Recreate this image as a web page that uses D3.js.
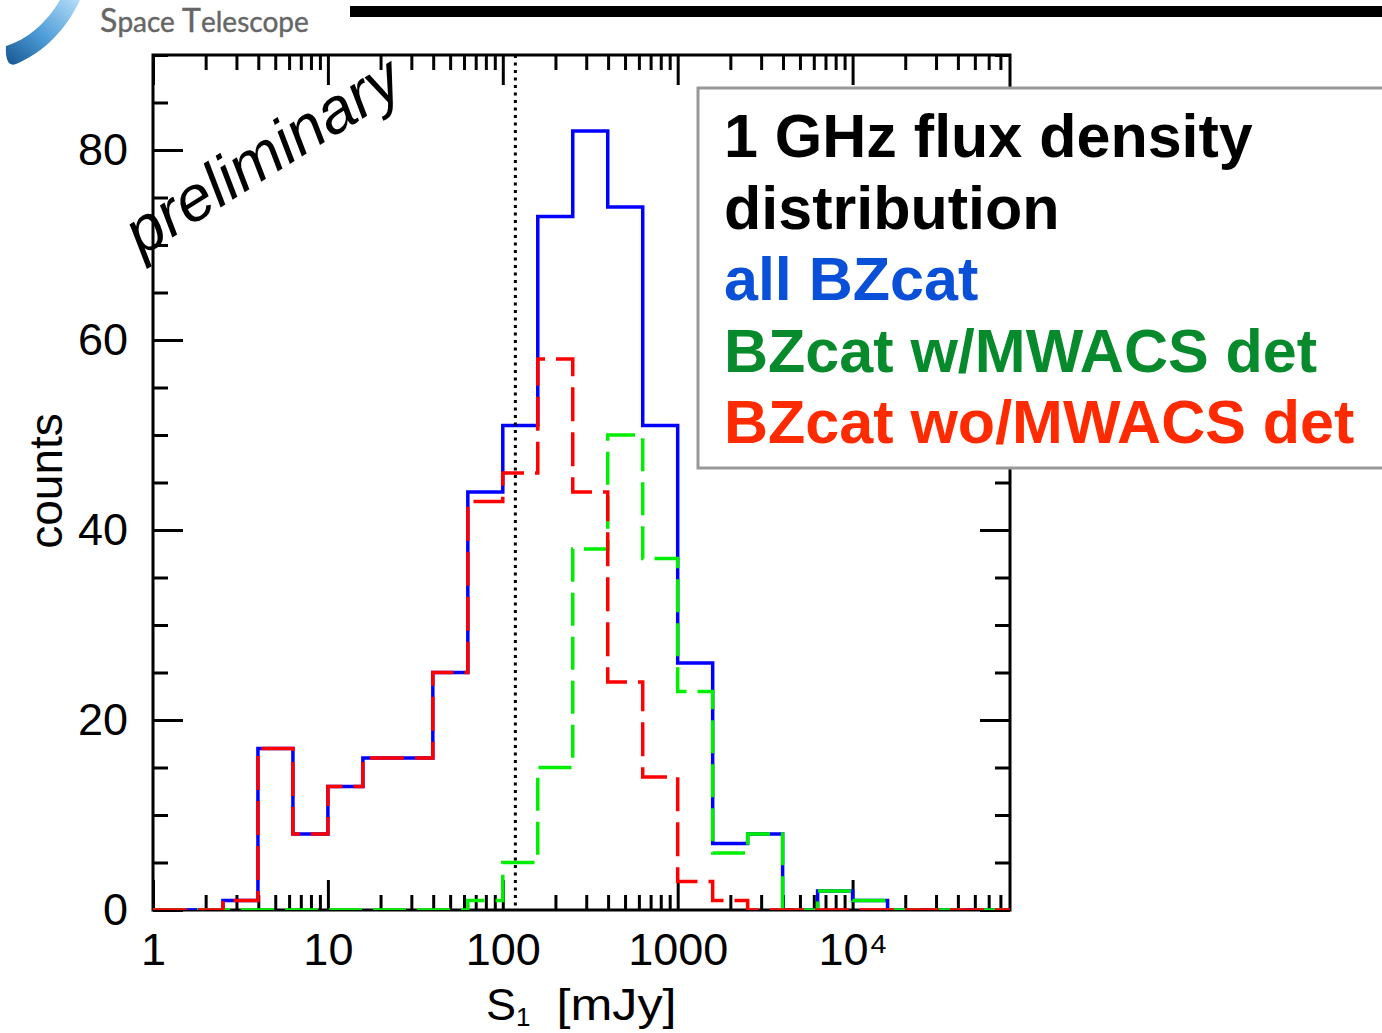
<!DOCTYPE html>
<html>
<head>
<meta charset="utf-8">
<script src="https://cdn.jsdelivr.net/npm/d3@7"></script>
<style>
  body { margin: 0; background: #fff; }
  svg { display: block; }
</style>
</head>
<body>
<svg id="chart"></svg>
<script>
// bin edges in mJy (0.2 dex wide bins)
const binEdges = [1, 1.585, 2.512, 3.981, 6.310, 10, 15.85, 25.12, 39.81, 63.10,
  100, 158.5, 251.2, 398.1, 631.0, 1000, 1585, 2512, 3981, 6310,
  10000, 15850, 25120, 39810, 63100, 100000];
const allBZcat = [0, 0, 1, 17, 8, 13, 16, 16, 25, 44, 51, 73, 82, 74, 51, 26, 7, 8, 0, 2, 1, 0, 0, 0, 0];
const withMWACS = [0, 0, 0, 0, 0, 0, 0, 0, 0, 1, 5, 15, 38, 50, 37, 23, 6, 8, 0, 2, 1, 0, 0, 0, 0];
const withoutMWACS = [0, 0, 1, 17, 8, 13, 16, 16, 25, 43, 46, 58, 44, 24, 14, 3, 1, 0, 0, 0, 0, 0, 0, 0, 0];
const xMajor = [1, 10, 100, 1000, 10000];
const xLabels = ["1", "10", "100", "1000", "10\u2074"];
const yMajor = [0, 20, 40, 60, 80];
const fluxLimit = 118;
const legendLines = [
  { text: "1 GHz flux density", color: "#000" },
  { text: "distribution", color: "#000" },
  { text: "all BZcat", color: "#0a4fd8" },
  { text: "BZcat w/MWACS det", color: "#078a2c" },
  { text: "BZcat wo/MWACS det", color: "#ff2a00" }
];

const width = 1382;
const height = 1033;
const plot = { left: 153, right: 1010, top: 55, bottom: 910 };
const axisFont = "'Liberation Sans', Arial, sans-serif";

const svg = d3.select("#chart").attr("width", width).attr("height", height);

const x = d3.scaleLog().domain([1, 79433]).range([plot.left, plot.right]);
const y = d3.scaleLinear().domain([0, 90]).range([plot.bottom, plot.top]);

const xMinor = x.ticks().filter(v => Math.abs(Math.log10(v) - Math.round(Math.log10(v))) > 1e-6);
const yMinor = y.ticks(18).filter(v => v % 20 !== 0);

// header: logo + rule
const defs = svg.append("defs");
const grad = defs.append("linearGradient").attr("id", "swoosh")
  .attr("x1", "100%").attr("y1", "0%").attr("x2", "0%").attr("y2", "100%");
grad.append("stop").attr("offset", "0%").attr("stop-color", "#b5def8");
grad.append("stop").attr("offset", "55%").attr("stop-color", "#4a9ad6");
grad.append("stop").attr("offset", "100%").attr("stop-color", "#16558f");
svg.append("path")
  .attr("d", "M6,46 C26,40 46,24 60,0 L80,0 C66,30 44,52 16,64 C9,67 5,60 6,46 Z")
  .attr("fill", "url(#swoosh)");
const logo = svg.append("text")
  .attr("x", 100).attr("y", 32)
  .attr("font-family", "Lato, 'Open Sans', sans-serif")
  .attr("font-size", 28)
  .attr("fill", "#666")
  .attr("stroke", "#666").attr("stroke-width", 0.4);
logo.append("tspan").attr("font-size", 32).text("S");
logo.append("tspan").text("pace ");
logo.append("tspan").attr("font-size", 32).text("T");
logo.append("tspan").text("elescope");
svg.append("rect").attr("x", 350).attr("y", 6).attr("width", width - 350).attr("height", 11).attr("fill", "#000");

// axes
function styleAxis(g) {
  g.select(".domain").remove();
  g.selectAll(".tick line").attr("stroke", "#000").attr("stroke-width", 3);
  g.selectAll("text").attr("font-family", axisFont).attr("font-size", 45).attr("fill", "#000");
}

svg.append("g").attr("transform", `translate(0,${plot.bottom})`)
  .call(d3.axisBottom(x).tickValues(xMajor).tickSizeInner(-30).tickSizeOuter(0)
    .tickPadding(23).tickFormat((d, i) => xLabels[i]))
  .call(styleAxis);
svg.append("g").attr("transform", `translate(0,${plot.bottom})`)
  .call(d3.axisBottom(x).tickValues(xMinor).tickSizeInner(-15).tickSizeOuter(0).tickFormat(""))
  .call(styleAxis);
svg.append("g").attr("transform", `translate(0,${plot.top})`)
  .call(d3.axisTop(x).tickValues(xMajor).tickSizeInner(-30).tickSizeOuter(0).tickFormat(""))
  .call(styleAxis);
svg.append("g").attr("transform", `translate(0,${plot.top})`)
  .call(d3.axisTop(x).tickValues(xMinor).tickSizeInner(-15).tickSizeOuter(0).tickFormat(""))
  .call(styleAxis);
svg.append("g").attr("transform", `translate(${plot.left},0)`)
  .call(d3.axisLeft(y).tickValues(yMajor).tickSizeInner(-30).tickSizeOuter(0).tickPadding(25))
  .call(styleAxis);
svg.append("g").attr("transform", `translate(${plot.left},0)`)
  .call(d3.axisLeft(y).tickValues(yMinor).tickSizeInner(-15).tickSizeOuter(0).tickFormat(""))
  .call(styleAxis);
svg.append("g").attr("transform", `translate(${plot.right},0)`)
  .call(d3.axisRight(y).tickValues(yMajor).tickSizeInner(-30).tickSizeOuter(0).tickFormat(""))
  .call(styleAxis);
svg.append("g").attr("transform", `translate(${plot.right},0)`)
  .call(d3.axisRight(y).tickValues(yMinor).tickSizeInner(-15).tickSizeOuter(0).tickFormat(""))
  .call(styleAxis);

svg.append("rect")
  .attr("x", plot.left).attr("y", plot.top)
  .attr("width", plot.right - plot.left).attr("height", plot.bottom - plot.top)
  .attr("fill", "none").attr("stroke", "#000").attr("stroke-width", 3);

// axis titles
svg.append("text")
  .attr("transform", "translate(62,481) rotate(-90)")
  .attr("text-anchor", "middle")
  .attr("font-family", axisFont).attr("font-size", 46)
  .text("counts");
const xt = svg.append("text")
  .attr("x", 486).attr("y", 1020)
  .attr("font-family", axisFont).attr("font-size", 45);
xt.append("tspan").text("S");
xt.append("tspan").attr("font-size", 26).attr("dy", 6).text("1");
xt.append("tspan").attr("dy", -6).attr("dx", 26).text("[mJy]")
  .attr("textLength", 120).attr("lengthAdjust", "spacingAndGlyphs");

// histograms
defs.append("clipPath").attr("id", "clip").append("rect")
  .attr("x", plot.left).attr("y", plot.top)
  .attr("width", plot.right - plot.left).attr("height", plot.bottom - plot.top);

const step = d3.line()
  .x(d => x(d.edge))
  .y(d => y(d.count))
  .curve(d3.curveStepAfter);

function points(counts) {
  const pts = counts.map((c, i) => ({ edge: binEdges[i], count: c }));
  pts.push({ edge: binEdges[counts.length], count: counts[counts.length - 1] });
  return pts;
}

const hist = svg.append("g").attr("clip-path", "url(#clip)");
hist.append("path").attr("d", step(points(allBZcat)))
  .attr("fill", "none").attr("stroke", "#0000ff").attr("stroke-width", 3.5);
hist.append("path").attr("d", step(points(withMWACS)))
  .attr("fill", "none").attr("stroke", "#00ee00").attr("stroke-width", 3.5)
  .attr("stroke-dasharray", "33,11");
hist.append("path").attr("d", step(points(withoutMWACS)))
  .attr("fill", "none").attr("stroke", "#ff0000").attr("stroke-width", 3.5)
  .attr("stroke-dasharray", "34,11");

svg.append("line")
  .attr("x1", x(fluxLimit)).attr("x2", x(fluxLimit))
  .attr("y1", plot.top).attr("y2", plot.bottom)
  .attr("stroke", "#000").attr("stroke-width", 3)
  .attr("stroke-dasharray", "3,4.5");

// watermark
svg.append("text")
  .attr("transform", "translate(274,174) rotate(-32)")
  .attr("text-anchor", "middle")
  .attr("font-family", axisFont).attr("font-style", "italic")
  .attr("font-size", 64)
  .text("preliminary");

// legend box
svg.append("rect")
  .attr("x", 698).attr("y", 88).attr("width", 720).attr("height", 380)
  .attr("fill", "#fff").attr("stroke", "#999").attr("stroke-width", 3);
svg.append("g").selectAll("text").data(legendLines).join("text")
  .attr("x", 724)
  .attr("y", (d, i) => 157 + i * 71.6)
  .attr("font-family", axisFont).attr("font-weight", "bold").attr("font-size", 61)
  .attr("fill", d => d.color)
  .text(d => d.text);
</script>
</body>
</html>
